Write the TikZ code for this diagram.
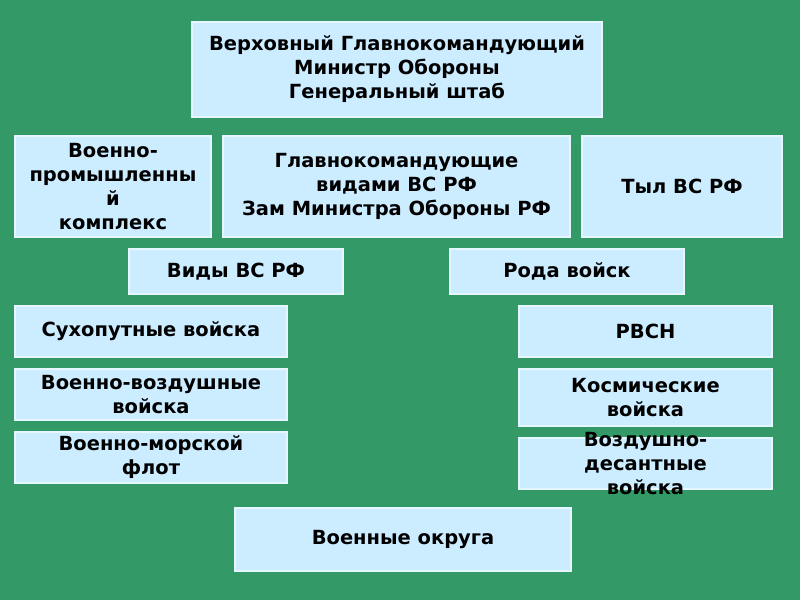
\documentclass[tikz,border=0pt]{standalone}
\usepackage{fontspec}
\setmainfont{DejaVu Sans}
\definecolor{bg}{HTML}{339966}
\definecolor{boxfill}{HTML}{CCECFF}
\definecolor{boxline}{HTML}{E6F6FF}
\begin{document}
\begin{tikzpicture}[x=0.75pt,y=-0.75pt,
  box/.style={draw=boxline, line width=0.8pt, fill=boxfill, inner sep=0pt},
  txt/.style={align=center, inner sep=0pt,
    font=\fontsize{14.6}{18}\selectfont\bfseries, text=black}]
\fill[bg] (0,0) rectangle (800,600);
\useasboundingbox (0,0) rectangle (800,600);
\newcommand\bx[6]{\node[box, minimum width=#3*0.75pt-#1*0.75pt, minimum height=#4*0.75pt-#2*0.75pt] (#5) at ({(#1+#3)/2},{(#2+#4)/2}) {};
\node[txt] (#5t) at (#5.center) {#6};}
\bx{192}{22}{602}{117}{top}{Верховный Главнокомандующий\\Министр Обороны\\Генеральный штаб}
\bx{15}{136}{211}{237}{vpk}{Военно-\\промышленны\\й\\комплекс}
\bx{223}{136}{570}{237}{glav}{Главнокомандующие\\видами ВС РФ\\Зам Министра Обороны РФ}
\bx{582}{136}{782}{237}{tyl}{Тыл ВС РФ}
\bx{129}{249}{343}{294}{vidy}{Виды ВС РФ}
\bx{450}{249}{684}{294}{roda}{Рода войск}
\bx{15}{306}{287}{357}{sv}{Сухопутные войска}
\bx{519}{306}{772}{357}{rvsn}{РВСН}
\bx{15}{369}{287}{420}{vvs}{Военно-воздушные\\войска}
\bx{519}{369}{772}{426}{kv}{Космические\\войска}
\bx{15}{432}{287}{483}{vmf}{Военно-морской\\флот}
\bx{519}{438}{772}{489}{vdv}{Воздушно-\\десантные\\войска}
\bx{235}{508}{571}{571}{vo}{Военные округа}
\end{tikzpicture}
\end{document}
